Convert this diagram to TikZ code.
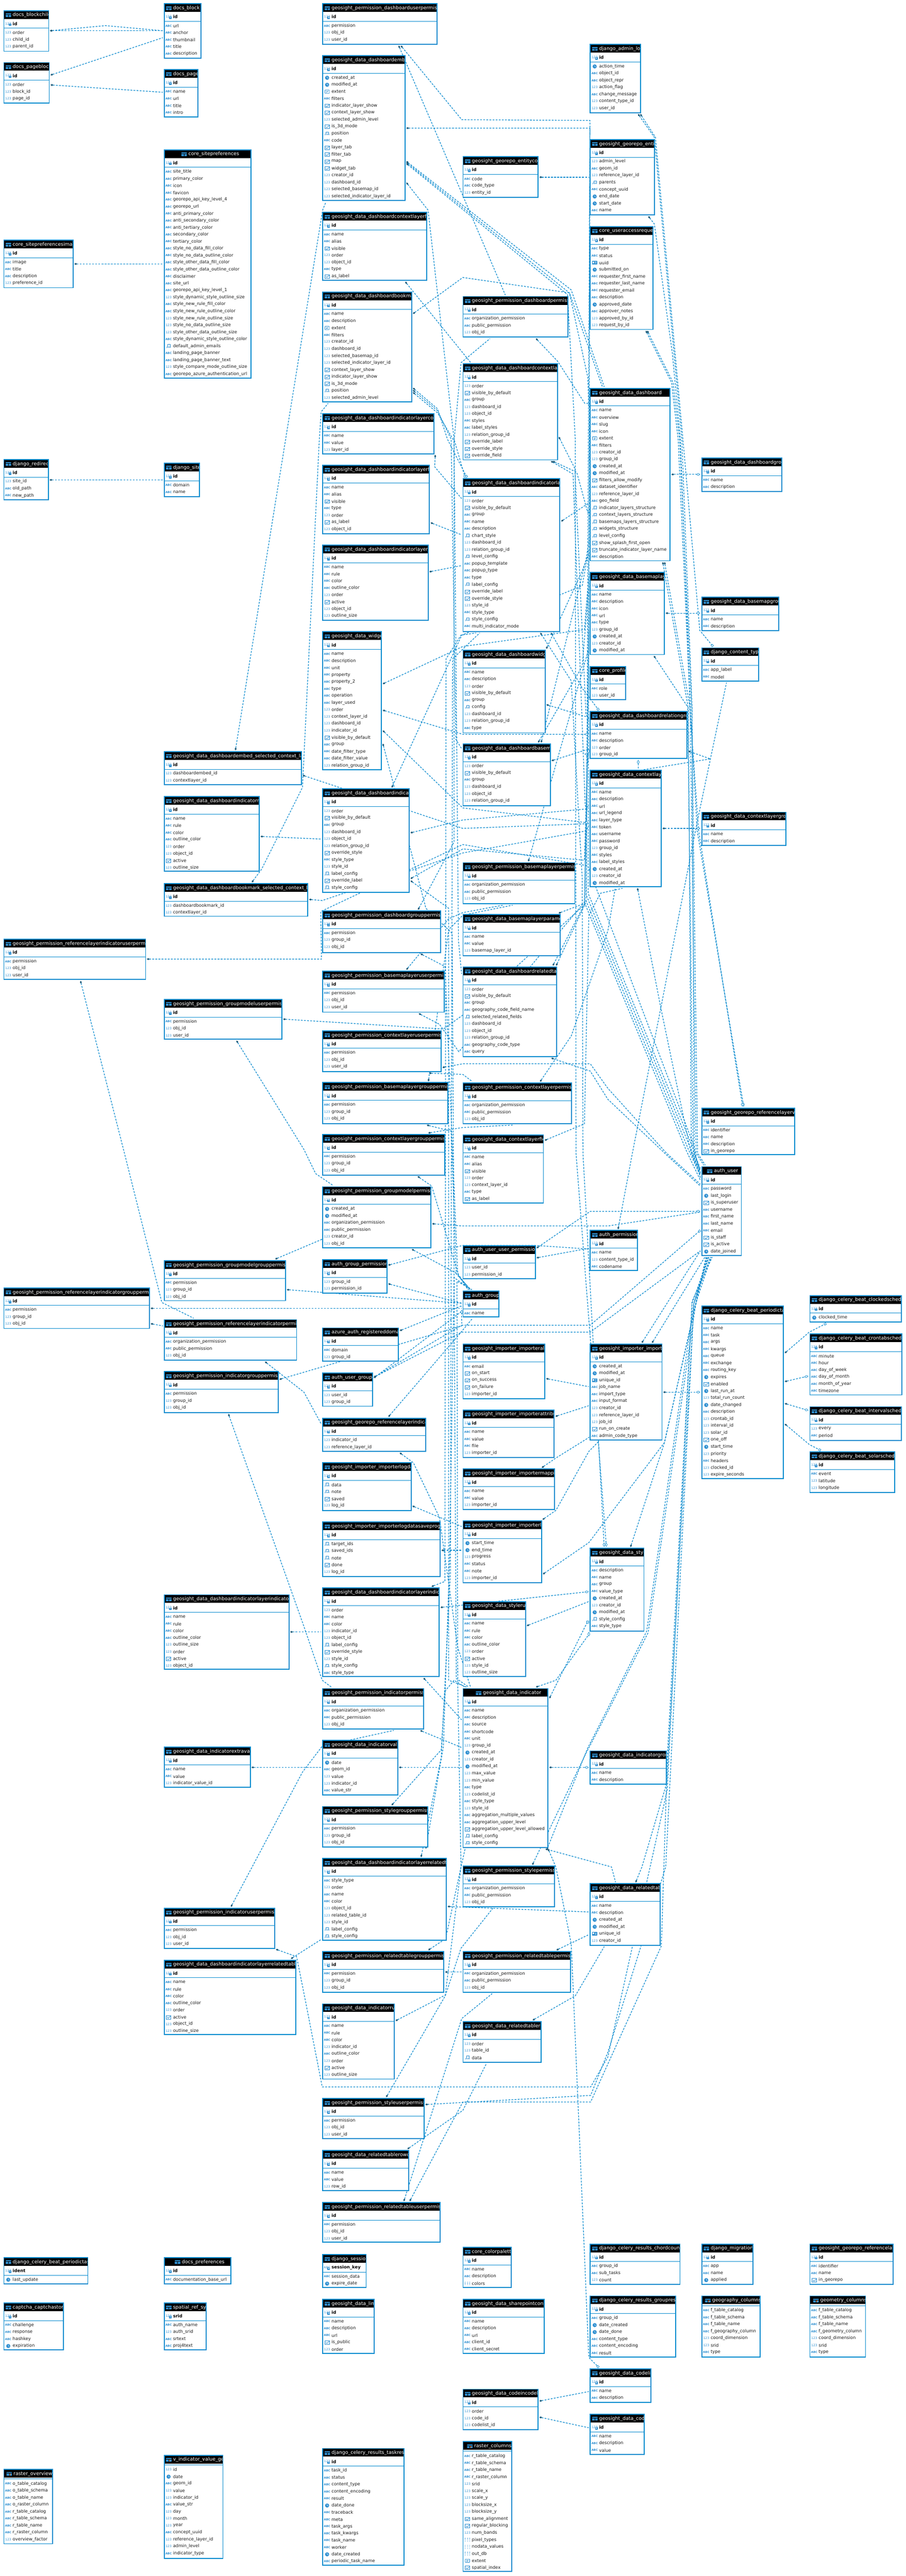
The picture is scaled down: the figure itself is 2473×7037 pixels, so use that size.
\documentclass[tikz,border=0pt]{standalone}
\usepackage{fontspec}
\setmainfont{DejaVu Sans}
\usetikzlibrary{calc,arrows.meta}
\definecolor{tbblue}{HTML}{0A8CCF}
\definecolor{lnblue}{HTML}{0E8CCF}
\definecolor{dotc}{HTML}{1F5C7A}
\definecolor{icb}{HTML}{2F8FD0}
\pgfdeclarelayer{bg}
\pgfsetlayers{bg,main}
\newcommand\ttlfont{\fontsize{13.3}{14}\selectfont}
\newcommand\rowfont{\fontsize{11.9}{13}\selectfont}
\tikzset{
 tbbox/.style={draw=tbblue,line width=2.6pt,fill=white,anchor=north west,inner sep=0pt,outer sep=0pt},
 ttl/.style={anchor=west,inner sep=0pt,text=white,font=\ttlfont},
 rowt/.style={anchor=west,inner sep=0pt,text=black!90,font=\rowfont},
 pkt/.style={anchor=west,inner sep=0pt,text=black,font=\rowfont\bfseries},
 icont/.style={inner sep=0pt,text=icb,font=\fontsize{8.6}{9}\selectfont},
 icona/.style={inner sep=0pt,text=icb,font=\fontsize{7.6}{8}\selectfont\bfseries},
 iconj/.style={inner sep=0pt,text=icb,font=\fontsize{4.6}{5}\selectfont\bfseries},
 ln/.style={draw=lnblue,line width=1.8pt,dash pattern=on 5pt off 3.5pt},
 fk/.style={ln,{Circle[length=6.5pt,width=5pt,color=dotc]}-},
 fkd/.style={ln,{Circle[length=6.5pt,width=5pt,color=dotc]}-{Diamond[length=12pt,width=7pt,fill=white,color=lnblue,line width=1pt]}},
 fks/.style={ln,{Circle[length=6.5pt,width=5pt,color=dotc]}-{Square[length=6pt,width=6pt,fill=white,color=lnblue,line width=1pt]}},
}
\newcommand\ICn[2]{\node[icont] at (#1,#2){123};}
\newcommand\ICa[2]{\node[icona] at (#1,#2){ABC};}
\newcommand\ICc[2]{\fill[icb] (#1,#2) circle (5.6pt);\draw[white,line width=.8pt] (#1,#2-3.5) -- (#1,#2) -- (#1+3,#2+1);}
\newcommand\ICb[2]{\draw[icb,line width=.8pt] (#1-6.5,#2-4.5) rectangle (#1+6.5,#2+5);\draw[icb,line width=1.1pt] (#1-4,#2) -- (#1-1,#2+3) -- (#1+7,#2-4);}
\newcommand\ICj[2]{\draw[icb,line width=.6pt] (#1-3,#2-5) rectangle (#1+4,#2+3);\node[iconj,fill=white] at (#1,#2+3) {JSON};}
\newcommand\ICe[2]{\draw[icb,line width=1.2pt,rounded corners=1pt] (#1-6,#2-4.5) rectangle (#1+6,#2+4.5);\draw[icb,line width=1pt] (#1-3,#2-1) -- (#1+3,#2-1) (#1-3,#2+1.5) -- (#1+1,#2+1.5);}
\newcommand\ICu[2]{\fill[icb,rounded corners=1pt] (#1-7,#2-5) rectangle (#1+7,#2+5);\fill[white] (#1-5,#2-3) rectangle (#1-1,#2+1);\draw[white,line width=.8pt] (#1+1,#2-2) -- (#1+5,#2-2) (#1+1,#2+1) -- (#1+5,#2+1);}
\newcommand\ICr[2]{\foreach \ax in {-6,0,6}{\foreach \ay in {-4,0,4}{\fill[icb] (#1+\ax-.8,#2+\ay-.8) rectangle (#1+\ax+.8,#2+\ay+.8);}}}
\def\pkic{123}
\def\ttlx{24}
\newcommand\tb[8][id]{%
 \pgfmathsetmacro\tbW{#5-#3}\pgfmathsetmacro\tbH{#6-#4}%
 \node[tbbox,minimum width=\tbW pt,minimum height=\tbH pt] (#2) at (#3,#4) {};%
 \fill[black] (#3+1.3,#4+1.3) rectangle (#5-1.3,#4+22.5);%
 \begin{scope}\clip (#3,#4) rectangle (#5-1.3,#4+24);\node[ttl] at (#3+\ttlx,#4+12.5) {#7};\end{scope}%
 \fill[icb,rounded corners=1pt] (#3+\ttlx-19,#4+7.5) rectangle (#3+\ttlx-4,#4+17.5);%
 \draw[black,line width=.8pt] (#3+\ttlx-19,#4+11) -- (#3+\ttlx-4,#4+11) (#3+\ttlx-11.5,#4+11) -- (#3+\ttlx-11.5,#4+17.5);%
 \def\tbpk{#1}\def\tbview{view}%
 \ifx\tbpk\tbview
  \draw[tbblue,line width=.8pt] (#3,#4+26) -- (#5,#4+26);%
  \fill[orange!80!red] (#3+\ttlx-9,#4+14) circle (2pt);%
  \foreach[count=\ri] \rt/\rn in {#8}{\pgfmathsetmacro\ry{#4+39.5+19.05*(\ri-1)}%
   \csname IC\rt\endcsname{#3+12}{\ry}\node[rowt] at (#3+24,\ry) {\rn};}%
 \else
  \draw[tbblue,line width=.8pt] (#3,#4+48) -- (#5,#4+48);%
  \node[icont] at (#3+12,#4+35.5){\pkic};\fill[icb] (#3+13,#4+35.5) rectangle (#3+20,#4+42);\fill[white] (#3+15.5,#4+37) rectangle (#3+17.5,#4+39);%
  \node[pkt] at (#3+24,#4+36) {#1};%
  \foreach[count=\ri] \rt/\rn in {#8}{\pgfmathsetmacro\ry{#4+60.5+19.05*(\ri-1)}%
   \csname IC\rt\endcsname{#3+12}{\ry}\node[rowt] at (#3+24,\ry) {\rn};}%
 \fi}
\def\pE#1#2{($(#1.east |- 0,#2)+(4,0)$)}
\def\pW#1#2{($(#1.west |- 0,#2)+(-4,0)$)}
\def\pS#1#2{($(#1.south -| #2,0)+(0,4)$)}
\def\pN#1#2{($(#1.north -| #2,0)+(0,-4)$)}
\newcommand\Cn[2][fk]{\edef\cntmp{\noexpand\draw[#1] #2;}\cntmp}
\begin{document}
\catcode`\_=12
\begin{tikzpicture}[x=1pt,y=-1pt]
\useasboundingbox (0,0) rectangle (2473,7037);
\begin{pgfonlayer}{bg}\fill[white] (0,0) rectangle (2473,7037);\end{pgfonlayer}
% ---- column A/B
\tb{blockchild}{10.6}{29}{133}{140}{docs_blockchild}{n/order,n/child_id,n/parent_id}
\tb{pageblock}{10.6}{171}{134.5}{282}{docs_pageblock}{n/order,n/block_id,n/page_id}
\tb{block}{448.4}{10}{548.4}{159}{docs_block}{a/url,a/anchor,a/thumbnail,a/title,a/description}
\tb{page}{448.4}{190}{540.5}{320}{docs_page}{a/name,a/url,a/title,a/intro}
\def\ttlx{66}
\tb{pref}{448.4}{409}{685.5}{1033}{core_sitepreferences}{a/site_title,a/primary_color,a/icon,a/favicon,a/georepo_api_key_level_4,a/georepo_url,a/anti_primary_color,a/anti_secondary_color,a/anti_tertiary_color,a/secondary_color,a/tertiary_color,a/style_no_data_fill_color,a/style_no_data_outline_color,a/style_other_data_fill_color,a/style_other_data_outline_color,a/disclaimer,a/site_url,a/georepo_api_key_level_1,n/style_dynamic_style_outline_size,a/style_new_rule_fill_color,a/style_new_rule_outline_color,n/style_new_rule_outline_size,n/style_no_data_outline_size,n/style_other_data_outline_size,a/style_dynamic_style_outline_color,j/default_admin_emails,a/landing_page_banner,a/landing_page_banner_text,n/style_compare_mode_outline_size,a/georepo_azure_authentication_url}
\def\ttlx{24}
\tb{prefimg}{10.6}{656}{199.6}{786}{core_sitepreferencesimage}{a/image,a/title,a/description,n/preference_id}
\tb{redirect}{10.6}{1255}{132}{1365}{django_redirect}{n/site_id,a/old_path,a/new_path}
\tb{site}{448.4}{1265}{545}{1357}{django_site}{a/domain,a/name}
\tb{esc}{448.4}{2053}{823}{2144}{geosight_data_dashboardembed_selected_context_layers}{n/dashboardembed_id,n/contextlayer_id}
\tb{dir}{448.4}{2176}{708}{2380}{geosight_data_dashboardindicatorrule}{a/name,a/rule,a/color,a/outline_color,n/order,n/object_id,b/active,n/outline_size}
\tb{bsc}{448.4}{2414}{840.6}{2503}{geosight_data_dashboardbookmark_selected_context_layers}{n/dashboardbookmark_id,n/contextlayer_id}
\tb{rluser}{10.6}{2566}{397.6}{2676}{geosight_permission_referencelayerindicatoruserpermission}{a/permission,n/obj_id,n/user_id}
\tb{gmuser}{448.4}{2730}{769.7}{2839}{geosight_permission_groupmodeluserpermission}{a/permission,n/obj_id,n/user_id}
\tb{gmgroup}{448.4}{3443.5}{779.8}{3553}{geosight_permission_groupmodelgrouppermission}{a/permission,n/group_id,n/obj_id}
\tb{rlgroup}{10.6}{3518}{408}{3629}{geosight_permission_referencelayerindicatorgrouppermission}{a/permission,n/group_id,n/obj_id}
\tb{rlperm}{448.4}{3605}{810}{3716}{geosight_permission_referencelayerindicatorpermission}{a/organization_permission,a/public_permission,n/obj_id}
\tb{igp}{448.4}{3747}{759.7}{3859}{geosight_permission_indicatorgrouppermission}{a/permission,n/group_id,n/obj_id}
\tb{dilir}{448.4}{4356.5}{789}{4560.5}{geosight_data_dashboardindicatorlayerindicatorrule}{a/name,a/rule,a/color,a/outline_color,n/outline_size,n/order,b/active,n/object_id}
\tb{extra}{448.4}{4773}{683.4}{4882.6}{geosight_data_indicatorextravalue}{a/name,a/value,n/indicator_value_id}
\tb{iuser}{448.4}{5212.4}{750}{5322.4}{geosight_permission_indicatoruserpermission}{a/permission,n/obj_id,n/user_id}
\tb{dilrr}{448.4}{5354.5}{808}{5558}{geosight_data_dashboardindicatorlayerrelatedtablerule}{a/name,a/rule,a/color,a/outline_color,n/order,b/active,n/object_id,n/outline_size}
\tb[ident]{ptasks}{10.6}{6167}{240}{6239}{django_celery_beat_periodictasks}{c/last_update}
\def\ttlx{48}
\tb{docpref}{448.4}{6167}{630}{6239}{docs_preferences}{a/documentation_base_url}
\def\ttlx{24}
\tb{captcha}{10.6}{6291}{173}{6419}{captcha_captchastore}{a/challenge,a/response,a/hashkey,c/expiration}
\tb[srid]{spatial}{448.4}{6291}{563}{6419}{spatial_ref_sys}{a/auth_name,n/auth_srid,a/srtext,a/proj4text}
\def\ttlx{26}
\tb[view]{rasterov}{10.6}{6745.5}{143}{6949}{raster_overviews}{a/o_table_catalog,a/o_table_schema,a/o_table_name,a/o_raster_column,a/r_table_catalog,a/r_table_schema,a/r_table_name,a/r_raster_column,n/overview_factor}
\def\ttlx{24}
\tb[view]{vind}{448.4}{6707}{608.8}{6989}{v_indicator_value_geo}{n/id,c/date,a/geom_id,n/value,n/indicator_id,a/value_str,n/day,n/month,n/year,a/concept_uuid,n/reference_layer_id,n/admin_level,a/indicator_type}
% ---- column C
\tb{dup}{881.3}{10}{1193.7}{121}{geosight_permission_dashboarduserpermission}{a/permission,n/obj_id,n/user_id}
\tb{embed}{881.3}{152}{1106}{548}{geosight_data_dashboardembed}{c/created_at,c/modified_at,e/extent,a/filters,b/indicator_layer_show,b/context_layer_show,n/selected_admin_level,b/is_3d_mode,j/position,a/code,b/layer_tab,b/filter_tab,b/map,b/widget_tab,n/creator_id,n/dashboard_id,n/selected_basemap_id,n/selected_indicator_layer_id}
\tb{dcf}{881.3}{580}{1165.6}{766}{geosight_data_dashboardcontextlayerfield}{a/name,a/alias,b/visible,n/order,n/object_id,a/type,b/as_label}
\tb{book}{881.3}{797.4}{1124}{1098}{geosight_data_dashboardbookmark}{a/name,a/description,e/extent,a/filters,n/creator_id,n/dashboard_id,n/selected_basemap_id,n/selected_indicator_layer_id,b/context_layer_show,b/indicator_layer_show,b/is_3d_mode,j/position,n/selected_admin_level}
\tb{dilc}{881.3}{1130}{1184.7}{1240}{geosight_data_dashboardindicatorlayerconfig}{a/name,a/value,n/layer_id}
\tb{dilf}{881.3}{1271}{1172.5}{1457.5}{geosight_data_dashboardindicatorlayerfield}{a/name,a/alias,b/visible,a/type,n/order,b/as_label,n/object_id}
\tb{dilr}{881.3}{1488.6}{1169}{1695}{geosight_data_dashboardindicatorlayerrule}{a/name,a/rule,a/color,a/outline_color,n/order,b/active,n/object_id,n/outline_size}
\tb{widget}{881.3}{1726}{1041.8}{2103}{geosight_data_widget}{a/name,a/description,a/unit,a/property,a/property_2,a/type,a/operation,a/layer_used,n/order,n/context_layer_id,n/dashboard_id,n/indicator_id,b/visible_by_default,a/group,a/date_filter_type,a/date_filter_value,n/relation_group_id}
\tb{dind}{881.3}{2155}{1117.5}{2437.6}{geosight_data_dashboardindicator}{n/order,b/visible_by_default,a/group,n/dashboard_id,n/object_id,n/relation_group_id,b/override_style,a/style_type,n/style_id,j/label_config,b/override_label,j/style_config}
\tb{dgp}{881.3}{2488.6}{1203.7}{2601.7}{geosight_permission_dashboardgrouppermission}{a/permission,n/group_id,n/obj_id}
\tb{bup}{881.3}{2652.7}{1213}{2764.7}{geosight_permission_basemaplayeruserpermission}{a/permission,n/obj_id,n/user_id}
\tb{cup}{881.3}{2815.7}{1204.8}{2927.6}{geosight_permission_contextlayeruserpermission}{a/permission,n/obj_id,n/user_id}
\tb{bgp}{881.3}{2957.5}{1223.3}{3069.4}{geosight_permission_basemaplayergrouppermission}{a/permission,n/group_id,n/obj_id}
\tb{cgp}{881.3}{3099}{1214}{3209.7}{geosight_permission_contextlayergrouppermission}{a/permission,n/group_id,n/obj_id}
\tb{gmperm}{881.3}{3242}{1176.7}{3408.7}{geosight_permission_groupmodelpermission}{c/created_at,c/modified_at,a/organization_permission,a/public_permission,n/creator_id,n/obj_id}
\tb{agp}{881.3}{3441}{1056.6}{3532}{auth_group_permissions}{n/group_id,n/permission_id}
\tb{azure}{881.3}{3627.6}{1088.3}{3718.4}{azure_auth_registereddomain}{a/domain,n/group_id}
\tb{aug}{881.3}{3750.7}{1017.4}{3841.5}{auth_user_groups}{n/user_id,n/group_id}
\tb{rli}{881.3}{3874}{1162}{3964.7}{geosight_georepo_referencelayerindicator}{n/indicator_id,n/reference_layer_id}
\tb{ilogd}{881.3}{3995.8}{1122.7}{4126}{geosight_importer_importerlogdata}{j/data,j/note,b/saved,n/log_id}
\tb{ilogs}{881.3}{4157.5}{1202}{4306.7}{geosight_importer_importerlogdatasaveprogress}{j/target_ids,j/saved_ids,j/note,b/done,n/log_id}
\tb{dili}{881.3}{4338}{1199.5}{4580}{geosight_data_dashboardindicatorlayerindicator}{n/order,a/name,a/color,n/indicator_id,n/object_id,j/label_config,b/override_style,n/style_id,j/style_config,a/style_type}
\tb{iperm}{881.3}{4612.7}{1156.6}{4723.4}{geosight_permission_indicatorpermission}{a/organization_permission,a/public_permission,n/obj_id}
\tb{ival}{881.3}{4754.5}{1086}{4903.7}{geosight_data_indicatorvalue}{c/date,a/geom_id,n/value,n/indicator_id,a/value_str}
\tb{sgp}{881.3}{4935}{1167.7}{5045.6}{geosight_permission_stylegrouppermission}{a/permission,n/group_id,n/obj_id}
\tb{dilrt}{881.3}{5076.6}{1219}{5300}{geosight_data_dashboardindicatorlayerrelatedtable}{a/style_type,n/order,a/name,a/color,n/object_id,n/related_table_id,n/style_id,j/label_config,j/style_config}
\tb{rtgp}{881.3}{5331}{1212}{5442}{geosight_permission_relatedtablegrouppermission}{a/permission,n/group_id,n/obj_id}
\tb{irule}{881.3}{5474}{1076.7}{5679.4}{geosight_data_indicatorrule}{a/name,a/rule,a/color,n/indicator_id,a/outline_color,n/order,b/active,n/outline_size}
\tb{suser}{881.3}{5732.5}{1158}{5842.4}{geosight_permission_styleuserpermission}{a/permission,n/obj_id,n/user_id}
\tb{rtrf}{881.3}{5874.5}{1115.9}{5984.5}{geosight_data_relatedtablerowdata}{a/name,a/value,n/row_id}
\tb{rtuser}{881.3}{6016.6}{1202}{6125}{geosight_permission_relatedtableuserpermission}{a/permission,n/obj_id,n/user_id}
\def\pkic{ABC}\tb[session_key]{session}{881.3}{6158.7}{1000}{6248.9}{django_session}{a/session_data,c/expire_date}\def\pkic{123}
\tb{link}{881.3}{6281}{1021.6}{6429}{geosight_data_link}{a/name,a/description,a/url,b/is_public,n/order}
\tb{taskres}{881.3}{6688.6}{1103.7}{7007}{django_celery_results_taskresult}{a/task_id,a/status,a/content_type,a/content_encoding,a/result,c/date_done,a/traceback,a/meta,a/task_args,a/task_kwargs,a/task_name,a/worker,c/date_created,a/periodic_task_name}
% ---- column D
\tb{entcode}{1264.6}{428}{1469.5}{539.5}{geosight_georepo_entitycode}{a/code,a/code_type,n/entity_id}
\tb{dperm}{1264.6}{810}{1550.5}{921}{geosight_permission_dashboardpermission}{a/organization_permission,a/public_permission,n/obj_id}
\tb{dctx}{1264.6}{994}{1522.4}{1256}{geosight_data_dashboardcontextlayer}{n/order,b/visible_by_default,a/group,n/dashboard_id,n/object_id,a/styles,a/label_styles,n/relation_group_id,b/override_label,b/override_style,b/override_field}
\tb{dil}{1264.6}{1308}{1529}{1725}{geosight_data_dashboardindicatorlayer}{n/order,b/visible_by_default,a/group,a/name,a/description,j/chart_style,n/dashboard_id,n/relation_group_id,j/level_config,a/popup_template,a/popup_type,a/type,j/label_config,b/override_label,b/override_style,n/style_id,a/style_type,j/style_config,a/multi_indicator_mode}
\tb{dwid}{1264.6}{1776}{1488.6}{2002}{geosight_data_dashboardwidget}{a/name,a/description,n/order,b/visible_by_default,a/group,j/config,n/dashboard_id,n/relation_group_id,a/type}
\tb{dbase}{1264.6}{2032}{1502.8}{2201}{geosight_data_dashboardbasemap}{n/order,b/visible_by_default,a/group,n/dashboard_id,n/object_id,n/relation_group_id}
\tb{bperm}{1264.6}{2356.7}{1570}{2468.6}{geosight_permission_basemaplayerpermission}{a/organization_permission,a/public_permission,n/obj_id}
\tb{bparam}{1264.6}{2498.5}{1529.8}{2610.4}{geosight_data_basemaplayerparameter}{a/name,a/value,n/basemap_layer_id}
\tb{drt}{1264.6}{2641.5}{1520}{2886.6}{geosight_data_dashboardrelatedtable}{n/order,b/visible_by_default,a/group,a/geography_code_field_name,j/selected_related_fields,n/dashboard_id,n/object_id,n/relation_group_id,a/geography_code_type,a/query}
\tb{cperm}{1264.6}{2958.7}{1561}{3069.4}{geosight_permission_contextlayerpermission}{a/organization_permission,a/public_permission,n/obj_id}
\tb{clf}{1264.6}{3100.5}{1484}{3286.8}{geosight_data_contextlayerfield}{a/name,a/alias,b/visible,n/order,n/context_layer_id,a/type,b/as_label}
\tb{auup}{1264.6}{3402.5}{1462}{3493.3}{auth_user_user_permissions}{n/user_id,n/permission_id}
\tb{agroup}{1264.6}{3527}{1362.6}{3597.8}{auth_group}{a/name}
\tb{ialert}{1264.6}{3672}{1488}{3821.6}{geosight_importer_importeralert}{a/email,b/on_start,b/on_success,b/on_failure,n/importer_id}
\tb{iattr}{1264.6}{3851.5}{1513.4}{3981}{geosight_importer_importerattribute}{a/name,a/value,a/file,n/importer_id}
\tb{imap}{1264.6}{4013}{1514.5}{4124}{geosight_importer_importermapping}{a/name,a/value,n/importer_id}
\tb{ilog}{1264.6}{4155}{1479}{4323}{geosight_importer_importerlog}{c/start_time,c/end_time,n/progress,a/status,a/note,n/importer_id}
\tb{srule}{1264.6}{4375}{1435}{4580}{geosight_data_stylerule}{a/name,a/rule,a/color,a/outline_color,n/order,b/active,n/style_id,n/outline_size}
\def\ttlx{54}
\tb{ind}{1264.6}{4612.7}{1496.5}{5047}{geosight_data_indicator}{a/name,a/description,a/source,a/shortcode,a/unit,n/group_id,c/created_at,n/creator_id,c/modified_at,n/max_value,n/min_value,a/type,n/codelist_id,a/style_type,n/style_id,a/aggregation_multiple_values,a/aggregation_upper_level,b/aggregation_upper_level_allowed,j/label_config,j/style_config}
\def\ttlx{24}
\tb{sperm}{1264.6}{5098}{1514.5}{5208.7}{geosight_permission_stylepermission}{a/organization_permission,a/public_permission,n/obj_id}
\tb{rtperm}{1264.6}{5331}{1558.4}{5442}{geosight_permission_relatedtablepermission}{a/organization_permission,a/public_permission,n/obj_id}
\tb{rtrow}{1264.6}{5522.5}{1477.4}{5633.7}{geosight_data_relatedtablerow}{n/order,n/table_id,j/data}
\tb{palette}{1264.6}{6139}{1396}{6249}{core_colorpalette}{a/name,a/description,r/colors}
\tb{sharepoint}{1264.6}{6281}{1486}{6429}{geosight_data_sharepointconfig}{a/name,a/description,a/url,a/client_id,a/client_secret}
\tb{cicl}{1264.6}{6526.7}{1469.5}{6636.7}{geosight_data_codeincodelist}{n/order,n/code_id,n/codelist_id}
\def\ttlx{30}
\tb[view]{rastercol}{1264.6}{6670}{1397.5}{7024.6}{raster_columns}{a/r_table_catalog,a/r_table_schema,a/r_table_name,a/r_raster_column,n/srid,n/scale_x,n/scale_y,n/blocksize_x,n/blocksize_y,b/same_alignment,b/regular_blocking,n/num_bands,r/pixel_types,r/nodata_values,r/out_db,e/extent,b/spatial_index}
\def\ttlx{24}
% ---- column E
\tb{adminlog}{1612}{121}{1749}{308}{django_admin_log}{c/action_time,a/object_id,a/object_repr,n/action_flag,a/change_message,n/content_type_id,n/user_id}
\tb{entity}{1612}{381}{1787.5}{587}{geosight_georepo_entity}{n/admin_level,a/geom_id,n/reference_layer_id,j/parents,a/concept_uuid,c/end_date,c/start_date,a/name}
\tb{uar}{1612}{619}{1783.4}{900}{core_useraccessrequest}{a/type,a/status,u/uuid,c/submitted_on,a/requester_first_name,a/requester_last_name,a/requester_email,a/description,c/approved_date,a/approver_notes,n/approved_by_id,n/request_by_id}
\def\ttlx{24}
\tb{dash}{1612}{1060.7}{1830}{1532}{geosight_data_dashboard}{a/name,a/overview,a/slug,a/icon,e/extent,a/filters,n/creator_id,n/group_id,c/created_at,c/modified_at,b/filters_allow_modify,a/dataset_identifier,n/reference_layer_id,a/geo_field,j/indicator_layers_structure,j/context_layers_structure,j/basemaps_layers_structure,j/widgets_structure,j/level_config,b/show_splash_first_open,b/truncate_indicator_layer_name,a/description}
\tb{blayer}{1612}{1564}{1814.5}{1788}{geosight_data_basemaplayer}{a/name,a/description,a/icon,a/url,a/type,n/group_id,c/created_at,n/creator_id,c/modified_at}
\tb{profile}{1612}{1820.6}{1709}{1911.5}{core_profile}{a/role,n/user_id}
\tb{relgrp}{1612}{1943.8}{1875.7}{2072}{geosight_data_dashboardrelationgroup}{a/name,a/description,n/order,n/group_id}
\tb{clayer}{1612}{2104}{1805.7}{2422.6}{geosight_data_contextlayer}{a/name,a/description,a/url,a/url_legend,a/layer_type,a/token,a/username,a/password,n/group_id,a/styles,a/label_styles,c/created_at,n/creator_id,c/modified_at}
\tb{aperm}{1612}{3361.4}{1741.4}{3471}{auth_permission}{a/name,n/content_type_id,a/codename}
\tb{importer}{1612}{3672}{1807.8}{3933.6}{geosight_importer_importer}{c/created_at,c/modified_at,u/unique_id,a/job_name,a/import_type,a/input_format,n/creator_id,n/reference_layer_id,n/job_id,b/run_on_create,a/admin_code_type}
\tb{style}{1612}{4229.6}{1758.5}{4456}{geosight_data_style}{a/description,a/name,a/group,a/value_type,c/created_at,n/creator_id,c/modified_at,j/style_config,a/style_type}
\tb{igrp}{1612}{4783}{1819.7}{4874}{geosight_data_indicatorgroup}{a/name,a/description}
\tb{rtable}{1612}{5145.7}{1802.6}{5313.7}{geosight_data_relatedtable}{a/name,a/description,c/created_at,c/modified_at,u/unique_id,n/creator_id}
\tb{chord}{1612}{6130}{1857}{6240}{django_celery_results_chordcounter}{a/group_id,a/sub_tasks,n/count}
\tb{groupres}{1612}{6272}{1845}{6439}{django_celery_results_groupresult}{a/group_id,c/date_created,c/date_done,a/content_type,a/content_encoding,a/result}
\tb{codelist}{1612}{6471}{1777}{6562.6}{geosight_data_codelist}{a/name,a/description}
\tb{code}{1612}{6594.7}{1759.5}{6704.7}{geosight_data_code}{a/name,a/description,a/value}
% ---- column F/G
\tb{dgroup}{1916.6}{1251}{2135.5}{1343}{geosight_data_dashboardgroup}{a/name,a/description}
\tb{bgroup}{1916.6}{1631.6}{2126.6}{1722.4}{geosight_data_basemapgroup}{a/name,a/description}
\tb{ctype}{1916.6}{1769.7}{2071.7}{1860.5}{django_content_type}{a/app_label,a/model}
\tb{cgroup}{1916.6}{2218.7}{2146}{2309.5}{geosight_data_contextlayergroup}{a/name,a/description}
\tb{reflv}{1916.6}{3027}{2170.7}{3154}{geosight_georepo_referencelayerview}{a/identifier,a/name,a/description,b/in_georepo}
\def\ttlx{33}
\tb{authuser}{1916.6}{3187}{2024.5}{3430}{auth_user}{a/password,c/last_login,b/is_superuser,a/username,a/first_name,a/last_name,a/email,b/is_staff,b/is_active,c/date_joined}
\def\ttlx{24}
\tb{ptask}{1916.6}{3568}{2139.6}{4039}{django_celery_beat_periodictask}{a/name,a/task,a/args,a/kwargs,a/queue,a/exchange,a/routing_key,c/expires,b/enabled,c/last_run_at,n/total_run_count,c/date_changed,a/description,n/crontab_id,n/interval_id,n/solar_id,b/one_off,c/start_time,n/priority,a/headers,n/clocked_id,n/expire_seconds}
\tb{clocked}{2211.7}{3539}{2462}{3611.4}{django_celery_beat_clockedschedule}{c/clocked_time}
\tb{crontab}{2211.7}{3643.8}{2462.6}{3810.5}{django_celery_beat_crontabschedule}{a/minute,a/hour,a/day_of_week,a/day_of_month,a/month_of_year,a/timezone}
\tb{interval}{2211.7}{3842.8}{2461}{3935}{django_celery_beat_intervalschedule}{n/every,a/period}
\tb{solar}{2211.7}{3966}{2443.4}{4076.6}{django_celery_beat_solarschedule}{a/event,n/latitude,n/longitude}
\tb{migr}{1916.6}{6130}{2056}{6240}{django_migrations}{a/app,a/name,c/applied}
\def\ttlx{28}
\tb[view]{geogcol}{1916.6}{6272}{2075.8}{6439}{geography_columns}{a/f_table_catalog,a/f_table_schema,a/f_table_name,a/f_geography_column,n/coord_dimension,n/srid,a/type}
\def\ttlx{24}
\tb{refl}{2211.7}{6130}{2438.8}{6240}{geosight_georepo_referencelayer}{a/identifier,a/name,b/in_georepo}
\def\ttlx{28}
\tb[view]{geomcol}{2211.7}{6272}{2363.6}{6439}{geometry_columns}{a/f_table_catalog,a/f_table_schema,a/f_table_name,a/f_geometry_column,n/coord_dimension,n/srid,a/type}
\def\ttlx{24}
% ================ connectors
\begin{pgfonlayer}{bg}
\Cn{\pE{blockchild}{84} -- \pW{block}{84}}
\Cn{\pE{blockchild}{84} -- (288,70) -- \pW{block}{84}}
\Cn{\pE{pageblock}{205} -- \pW{block}{103}}
\Cn{\pE{pageblock}{232} -- \pW{page}{252}}
\Cn{\pE{prefimg}{721} -- \pW{pref}{721}}
\Cn{\pE{redirect}{1311} -- \pW{site}{1311}}
% upper fan to auth_user
\Cn{\pS{dup}{1089} -- \pN{dperm}{1380}}
\Cn{\pS{dup}{1095} -- (1261,327) -- (1611,329) -- (1606,2440) -- (1890,3130) -- \pW{authuser}{3200}}
\Cn{\pE{embed}{350} -- (1611,350) -- (1601,2445) -- (1885,3135) -- \pW{authuser}{3206}}
\Cn[fk]{\pS{adminlog}{1743} -- (1787,375) -- (1862,1200) -- (1890,1934) -- (1896,3150) -- \pW{authuser}{3193}}
\Cn[fks]{\pS{adminlog}{1749} -- (1790,375) -- (1865,1200) -- (1911,1722) -- \pN{ctype}{1947}}
\Cn[fkd]{\pS{entity}{1771} -- (1787,612) -- (1836,964) -- (1858,1200) -- (1885,1934) -- (1904,2270) -- \pN{reflv}{2031}}
\Cn{\pS{uar}{1764} -- (1834,1045) -- (1852,1200) -- (1885,1938) -- (1901,3150) -- \pN{authuser}{1922}}
\Cn{\pS{uar}{1768} -- (1838,1045) -- (1856,1200) -- (1889,1938) -- (1905,3150) -- \pN{authuser}{1926}}
\Cn{\pS{dash}{1810} -- (1878,1925) -- (1893,3150) -- \pW{authuser}{3197}}
\Cn[fkd]{\pS{dash}{1815} -- (1883,1925) -- (1908,2270) -- \pN{reflv}{2028}}
\Cn[fkd]{\pE{dash}{1296} -- \pW{dgroup}{1296}}
\Cn[fkd]{\pE{blayer}{1675} -- \pW{bgroup}{1675}}
\Cn{\pS{blayer}{1786} -- (1880,1934) -- (1888,3150) -- \pW{authuser}{3203}}
\Cn[fks]{\pS{dil}{1505} -- (1590,1880) -- \pN{relgrp}{1635}}
\Cn{\pE{book}{857} -- (1264,758) -- (1555,800) -- \pN{dash}{1645}}
\Cn{\pE{embed}{441} -- (1560,792) -- \pN{dash}{1650}}
\Cn{\pE{embed}{444} -- (1555,800) -- (1605,1030) -- \pW{dash}{1110}}
\Cn[fkd]{\pE{embed}{447} -- (1550,805) -- (1571,1200) -- (1573,3150) -- \pN{style}{1656}}
\Cn[fkd]{\pS{dil}{1476} -- (1560,1860) -- (1590,2400) -- (1592,3150) -- \pN{style}{1650}}
\Cn[fks]{\pE{embed}{499} -- (1169,574) -- (1240,1200) -- \pN{dil}{1270}}
\Cn[fks]{\pE{book}{1060} -- (1195,1117) -- (1222,1200) -- \pN{dil}{1275}}
\Cn{\pE{book}{1066} -- (1195,1122) -- (1232,1200) -- (1245,2020) -- \pW{dbase}{2045}}
\Cn{\pE{book}{1072} -- (1195,1128) -- (1240,1205) -- (1252,2570) -- \pW{drt}{2660}}
\Cn{\pN{dgp}{1142} -- (1240,2300) -- (1240,1205) -- (1259,991) -- \pS{dperm}{1338}}
\Cn{\pS{dgp}{1149} -- (1215,2640) -- (1250,3480) -- \pN{agroup}{1283}}
\Cn{\pN{bup}{1110} -- (1225,2510) -- (1264,2493) -- \pS{bperm}{1374}}
\Cn{\pS{bup}{1144} -- (1200,2798) -- (1253,2873) -- (1600,2460) -- (1880,3140) -- \pW{authuser}{3212}}
\Cn{\pE{cup}{2916} -- (1264,2906) -- (1612,2906) -- (1660,2973) -- (1820,3150) -- \pW{authuser}{3235}}
\Cn{\pS{cup}{1172} -- (1264,2935) -- \pN{cperm}{1290}}
\Cn{\pN{cperm}{1475} -- (1560,2830) -- (1660,2543) -- \pS{clayer}{1680}}
\Cn{\pS{drt}{1506} -- (1612,2926) -- (1660,3003) -- (1815,3150) -- \pW{authuser}{3240}}
\Cn[fkd]{\pN{drt}{1510} -- (1596,2470) -- (1604,2060) -- \pW{relgrp}{2060}}
\Cn{\pN{drt}{1519} -- (1600,2465) -- (1608,1600) -- \pW{dash}{1515}}
\Cn{\pN{bperm}{1443} -- (1600,1800) -- \pW{blayer}{1770}}
\Cn{\pN{bparam}{1526} -- (1596,2468) -- (1605,2000) -- \pW{blayer}{1720}}
\Cn{\pE{clf}{3115} -- (1596,3070) -- (1608,2500) -- (1640,2440) -- \pS{clayer}{1700}}
\Cn{\pS{cgp}{1141} -- (1179,3240) -- (1253,3486) -- \pN{agroup}{1280}}
\Cn{\pN{cgp}{1170} -- (1264,3080) -- \pS{cperm}{1400}}
\Cn{\pN{bgp}{1170} -- (1225,2540) -- (1264,2500) -- \pS{bperm}{1400}}
\Cn{\pS{bgp}{1166} -- (1232,3090) -- (1246,3480) -- \pN{agroup}{1286}}
% dashboard children
\Cn{\pE{dilc}{1243} -- (1187,1275) -- \pW{dil}{1362}}
\Cn{\pE{dilf}{1428} -- \pW{dil}{1461}}
\Cn{\pE{dilr}{1562} -- \pW{dil}{1545}}
\Cn[fks]{\pE{widget}{1868} -- (1264,1766) -- (1596,1720) -- \pW{blayer}{1570}}
\Cn[fkd]{\pE{widget}{1940} -- (1264,2006) -- \pW{relgrp}{2006}}
\Cn[fkd]{\pE{widget}{1996} -- (1264,2207) -- \pW{clayer}{2248}}
\Cn{\pE{widget}{2032} -- (1163,2481) -- (1235,2550) -- (1246,4585) -- \pN{ind}{1280}}
\Cn{\pE{dind}{2275} -- (1264,2240) -- (1600,2210) -- \pW{clayer}{2200}}
\Cn[fkd]{\pE{dind}{2400} -- (1264,2319) -- (1596,2350) -- (1604,2090) -- \pW{relgrp}{2046}}
\Cn{\pE{dind}{2406} -- (1225,2481) -- (1225,4590) -- \pN{ind}{1275}}
\Cn{\pN{dind}{1070} -- (1261,1735) -- (1590,1600) -- \pW{dash}{1500}}
\Cn{\pE{dil}{1424} -- \pW{dash}{1374}}
\Cn{\pE{dwid}{1925} -- (1594,1956) -- \pW{relgrp}{1959}}
\Cn{\pN{dwid}{1492} -- (1590,1560) -- \pW{dash}{1510}}
\Cn{\pE{dbase}{2078} -- \pW{relgrp}{2046}}
\Cn{\pN{dbase}{1470} -- (1590,1820) -- \pW{blayer}{1600}}
\Cn{\pN{dbase}{1478} -- (1600,1530) -- \pW{dash}{1480}}
\Cn{\pE{dctx}{1194} -- (1570,1280) -- (1600,1950) -- \pW{relgrp}{1965}}
\Cn{\pS{dctx}{1505} -- (1565,1295) -- (1598,2200) -- \pW{clayer}{2220}}
\Cn{\pS{dctx}{1510} -- (1575,1290) -- (1605,1400) -- \pW{dash}{1400}}
\Cn{\pS{dperm}{1464} -- (1523,987) -- (1597,1102) -- \pW{dash}{1102}}
\Cn{\pS{dcf}{1107} -- \pN{dctx}{1285}}
\Cn{\pE{entcode}{484} -- \pW{entity}{484}}
\Cn{\pN{esc}{643} -- (881,574) -- \pS{embed}{890}}
\Cn{\pE{esc}{2118} -- (1264,2263) -- \pW{clayer}{2250}}
\Cn{\pE{dir}{2285} -- \pW{dind}{2292}}
\Cn{\pN{bsc}{688} -- (714,2375) -- (826,2151) -- (872,1200) -- (877,1125) -- \pS{book}{896}}
\Cn{\pE{bsc}{2457} -- (880,2460) -- (1264,2330) -- (1600,2270) -- \pW{clayer}{2255}}
\Cn{\pE{rluser}{2620} -- (878,2620) -- (876,2490) -- (1264,2307) -- (1605,2365) -- (1895,3130) -- \pW{authuser}{3218}}
\Cn{\pS{rluser}{220} -- (339,3147) -- (442,3558) -- \pN{rlperm}{529}}
\Cn{\pS{gmuser}{646} -- (830,3140) -- (862,3206) -- \pN{gmperm}{909}}
\Cn{\pE{gmuser}{2784} -- (1211,2811) -- (1268,2770) -- (1598,2470) -- (1875,3145) -- \pW{authuser}{3224}}
% Relationship groups and diamonds
\Cn[fkd]{\pE{relgrp}{2052} -- (1940,2073) -- (1743,2105) -- \pS{relgrp}{1743}}
\Cn[fkd]{\pE{clayer}{2263} -- \pW{cgroup}{2263}}
\Cn{\pS{clayer}{1741} -- (1805,2755) -- (1885,3140) -- \pW{authuser}{3215}}
\Cn{\pN{aperm}{1688} -- (1727,3150) -- (1905,2240) -- \pS{ctype}{1984}}
% auth group area
\Cn{\pE{rlgroup}{3574} -- \pW{agroup}{3574}}
\Cn{\pE{rlgroup}{3616} -- (445,3622) -- \pW{rlperm}{3622}}
\Cn{\pN{gmgroup}{752} -- (878,3386) -- \pW{gmperm}{3386}}
\Cn{\pE{gmgroup}{3523} -- \pW{agroup}{3560}}
\Cn{\pS{rlperm}{724} -- (830,3803) -- \pW{rli}{3890}}
\Cn{\pE{igp}{3768} -- (1261,3622) -- \pW{agroup}{3585}}
\Cn{\pS{igp}{624} -- (830,4443) -- (880,4590) -- \pN{iperm}{905}}
\Cn{\pE{dilir}{4458} -- \pW{dili}{4458}}
\Cn{\pE{extra}{4828} -- \pW{ival}{4828}}
\Cn{\pE{gmperm}{3343} -- (1264,3349) -- (1660,3349) -- \pW{authuser}{3311}}
\Cn{\pS{gmperm}{1125} -- (1250,3480) -- \pN{agroup}{1278}}
\Cn{\pE{agp}{3456} -- (1264,3402) -- (1460,3402) -- \pW{aperm}{3412}}
\Cn{\pE{agp}{3507} -- \pW{agroup}{3560}}
\Cn[fkd]{\pE{auup}{3409} -- (1612,3309) -- \pW{authuser}{3309}}
\Cn{\pE{auup}{3436} -- \pW{aperm}{3410}}
\Cn{\pE{azure}{3635} -- (1261,3567) -- \pW{agroup}{3570}}
\Cn[fks]{\pE{aug}{3762} -- (1261,3620) -- (1612,3620) -- \pW{authuser}{3361}}
\Cn{\pE{aug}{3762} -- (1261,3639) -- (1612,3639) -- \pW{authuser}{3417}}
\Cn[fkd]{\pE{aug}{3764} -- (1261,3582) -- \pW{agroup}{3578}}
\Cn{\pN{rli}{1061} -- (1250,3650) -- \pS{agroup}{1290}}
\Cn{\pS{rli}{1092} -- (1129,3996) -- (1200,4145) -- (1250,4500) -- \pN{ind}{1285}}
\Cn{\pE{ilogd}{4114} -- \pW{ilog}{4170}}
\Cn{\pE{ilogs}{4235} -- \pW{ilog}{4235}}
\Cn[fkd]{\pE{dili}{4391} -- \pW{style}{4348}}
\Cn{\pS{dili}{1157} -- \pW{ind}{4698}}
\Cn{\pN{dili}{1179} -- (1215,4320) -- (1218,1800) -- (1259,1735) -- \pS{dil}{1300}}
\Cn{\pS{iperm}{1148} -- (1259,4773) -- \pW{ind}{4773}}
\Cn{\pE{ival}{4828} -- \pW{ind}{4828}}
\Cn{\pN{iuser}{631} -- (826,4841) -- (880,4770) -- (1075,4727) -- \pS{iperm}{1075}}
\Cn{\pE{iuser}{5325} -- (810,5345) -- (830,5445) -- (880,5701) -- (1613,5701) -- (1660,5619) -- (1822,4890) -- (1890,3560) -- \pS{authuser}{1935}}
\Cn{\pN{dilrr}{795} -- (830,5328) -- \pW{dilrt}{5298}}
\Cn{\pS{sgp}{1163} -- (1211,4770) -- (1228,4250) -- (1240,3490) -- \pN{agroup}{1287}}
\Cn{\pN{sgp}{1070} -- (1205,4780) -- (1215,4620) -- (1240,4590) -- \pN{ind}{1270}}
\Cn{\pN{dilrt}{1150} -- (1205,4800) -- (1230,4300) -- (1236,1800) -- \pS{dil}{1310}}
\Cn{\pE{dilrt}{5208} -- \pW{rtable}{5223}}
\Cn{\pE{rtgp}{5387} -- \pW{rtperm}{5387}}
\Cn{\pN{rtgp}{1170} -- (1217,5296) -- (1259,5100) -- (1250,4600) -- (1248,3500) -- \pN{agroup}{1289}}
\Cn{\pE{irule}{5520} -- (1216,5450) -- (1259,5100) -- \pS{ind}{1270}}
\Cn{\pN{rtperm}{1520} -- \pW{rtable}{5285}}
\Cn{\pN{rtuser}{1103} -- (1261,5514) -- \pS{rtperm}{1344}}
\Cn{\pN{rtuser}{1119} -- (1264,5742) -- (1613,5742) -- (1806,5316) -- (1820,4880) -- (1895,3560) -- \pS{authuser}{1940}}
\Cn{\pN{rtrow}{1455} -- (1571,5452) -- \pS{rtable}{1650}}
\Cn{\pN{rtrf}{1113} -- (1264,5765) -- \pS{rtrow}{1328}}
\Cn{\pN{suser}{1055} -- (1216,5452) -- (1259,5322) -- \pS{sperm}{1346}}
\Cn{\pE{suser}{5749} -- (1613,5724) -- (1660,5606) -- (1818,5100) -- (1895,3560) -- \pS{authuser}{1932}}
\Cn{\pN{rtable}{1736} -- (1753,5100) -- (1818,4880) -- (1890,3555) -- \pS{authuser}{1945}}
\Cn{\pS{ind}{1490} -- (1670,5100) -- \pN{rtable}{1681}}
\Cn[fks]{\pS{ind}{1497} -- (1518,5100) -- (1560,5310) -- (1608,6440) -- \pN{codelist}{1635}}
% indicator, style, importer
\Cn[fks]{\pE{ind}{4639} -- (1604,4431) -- \pW{style}{4431}}
\Cn[fkd]{\pN{ind}{1464} -- (1518,4590) -- (1608,4465) -- \pW{style}{4458}}
\Cn[fkd]{\pE{ind}{4828} -- \pW{igrp}{4828}}
\Cn{\pS{ind}{1494} -- (1605,4775) -- (1660,4667) -- (1766,4456) -- (1895,3560) -- \pS{authuser}{1936}}
\Cn{\pN{sperm}{1454} -- (1600,4790) -- (1660,4675) -- (1770,4460) -- (1900,3560) -- \pS{authuser}{1942}}
\Cn{\pE{srule}{4441} -- \pW{style}{4375}}
\Cn{\pN{style}{1722} -- (1813,3946) -- \pS{authuser}{1930}}
\Cn{\pE{ilog}{4300} -- (1608,4214) -- (1660,4145) -- (1815,3940) -- \pS{authuser}{1928}}
\Cn{\pN{importer}{1753} -- \pW{authuser}{3417}}
\Cn{\pN{importer}{1781} -- \pS{authuser}{1925}}
\Cn[fkd]{\pE{importer}{3803} -- \pW{ptask}{3803}}
\Cn{\pE{ialert}{3766} -- \pW{importer}{3788}}
\Cn{\pE{iattr}{3869} -- \pW{importer}{3840}}
\Cn{\pN{imap}{1480} -- (1518,3983) -- (1608,3927) -- \pW{importer}{3925}}
\Cn{\pN{ilog}{1482} -- (1518,4126) -- (1608,3965) -- \pS{importer}{1635}}
% celery
\Cn[fks]{\pE{ptask}{3696} -- (2210,3639) -- \pS{clocked}{2256}}
\Cn[fkd]{\pE{ptask}{3774} -- \pW{crontab}{3759}}
\Cn[fkd]{\pE{ptask}{3834} -- \pW{interval}{3853}}
\Cn[fks]{\pE{ptask}{3890} -- (2210,3946) -- \pN{solar}{2241}}
% codes
\Cn{\pE{cicl}{6559} -- \pW{codelist}{6533}}
\Cn{\pE{cicl}{6603} -- \pW{code}{6632}}
\end{pgfonlayer}
\end{tikzpicture}
\end{document}
